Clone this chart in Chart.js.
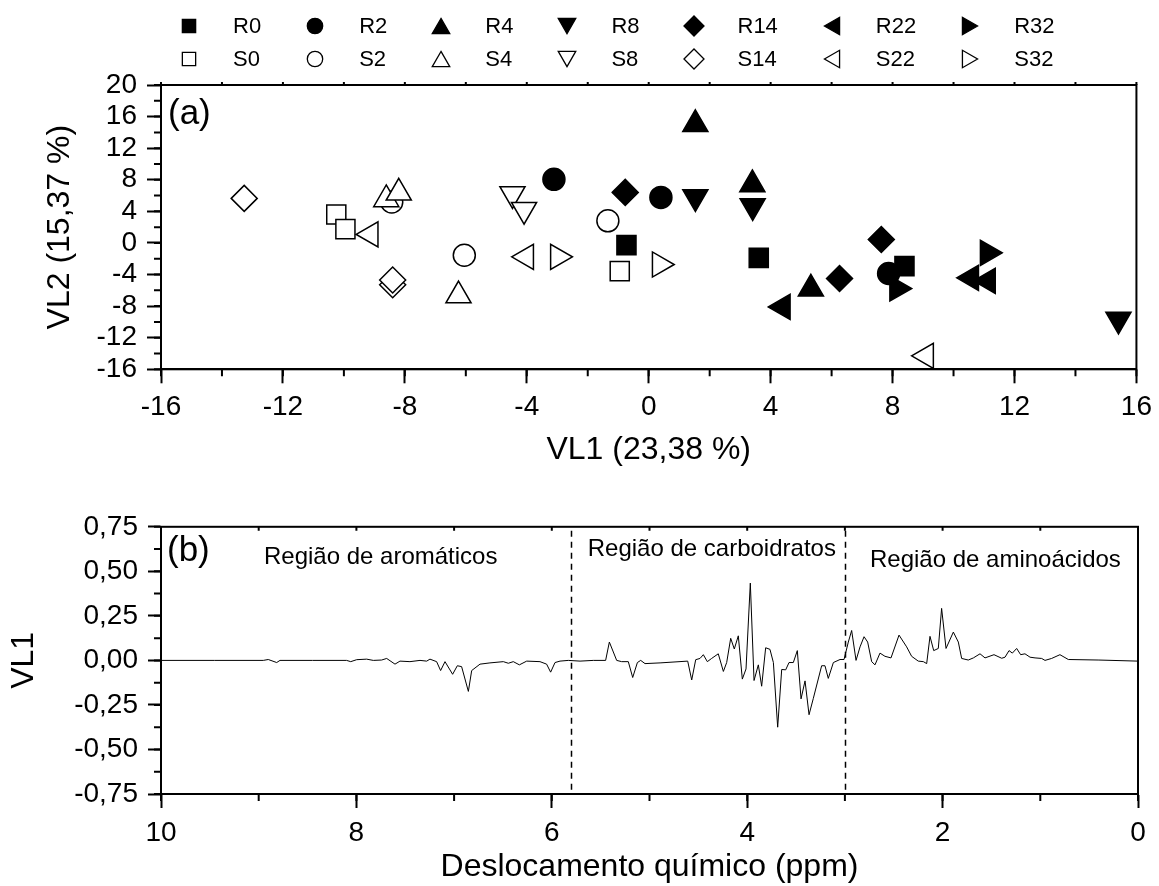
<!DOCTYPE html>
<html lang="pt">
<head>
<meta charset="utf-8">
<title>VL1 x VL2 e loadings</title>
<script src="https://cdn.jsdelivr.net/npm/chart.js@4/dist/chart.umd.min.js"></script>
<style>
  html, body { margin: 0; padding: 0; background: #fff; }
  #page { position: relative; width: 1159px; height: 886px; overflow: hidden; }
  #chartA { position: absolute; left: 0; top: 0; }
  #chartB { position: absolute; left: 0; top: 500px; }
  #legend {
    position: absolute; left: 176px; top: 9px;
    display: grid; grid-template-columns: repeat(7, auto); column-gap: 41px;
    font: 22px 'Liberation Sans', Arial, sans-serif; color: #000;
  }
  .item { display: flex; align-items: center; height: 33px; }
  .item canvas { width: 26px; height: 26px; }
  .item span { margin-left: 31px; }
</style>
</head>
<body>
<div id="page">
  <canvas id="chartA" width="1159" height="500"></canvas>
  <canvas id="chartB" width="1159" height="386"></canvas>
  <div id="legend"></div>
</div>
<script>
// scores (VL1, VL2)
const groups = ["0", "2", "4", "8", "14", "22", "32"];

const R0 = [[-0.73, -0.28], [3.61, -1.89], [8.39, -2.94]];
const R2 = [[-3.11, 8.05], [0.40, 5.77], [7.87, -3.87]];
const R4 = [[1.53, 15.02], [3.40, 7.41], [5.32, -5.81]];
const R8 = [[1.53, 5.83], [3.41, 4.69], [15.41, -9.69]];
const R14 = [[-0.77, 6.40], [6.26, -4.50], [7.63, 0.44]];
const R22 = [[4.40, -8.10], [10.58, -4.42], [11.13, -4.80]];
const R32 = [[8.15, -5.77], [11.12, -1.25]];

const S0 = [[-10.25, 3.61], [-9.95, 1.75], [-0.95, -3.57]];
const S2 = [[-8.43, 5.20], [-6.05, -1.55], [-1.34, 2.80]];
const S4 = [[-8.61, 5.51], [-8.20, 6.35], [-6.24, -6.67]];
const S8 = [[-4.47, 6.20], [-4.09, 4.21]];
const S14 = [[-13.27, 5.64], [-8.40, -5.30], [-8.40, -4.70]];
const S22 = [[-9.12, 1.08], [-4.02, -1.76], [9.10, -14.30]];
const S32 = [[-2.98, -1.76], [0.36, -2.73]];

// loadings of VL1 along the spectrum, panel (b)
const shiftPpm = [10.00, 9.45, 8.953, 8.902, 8.816, 8.782, 8.45, 8.10, 8.058, 7.997,
  7.895, 7.827, 7.742, 7.690, 7.605, 7.554, 7.452, 7.349, 7.281, 7.247,
  7.179, 7.138, 7.093, 7.015, 6.967, 6.923, 6.854, 6.820, 6.735, 6.633,
  6.496, 6.445, 6.394, 6.332, 6.257, 6.121, 6.053, 6.012, 5.967, 5.916,
  5.831, 5.711, 5.575, 5.449, 5.411, 5.336, 5.285, 5.217, 5.172, 5.124,
  5.090, 5.046, 4.892, 4.609, 4.568, 4.527, 4.483, 4.449, 4.408, 4.364,
  4.296, 4.244, 4.210, 4.169, 4.132, 4.091, 4.050, 4.012, 3.968, 3.930,
  3.886, 3.852, 3.811, 3.767, 3.732, 3.688, 3.647, 3.606, 3.572, 3.528,
  3.487, 3.449, 3.408, 3.367, 3.323, 3.238, 3.204, 3.170, 3.118, 3.050,
  3.009, 2.965, 2.931, 2.886, 2.845, 2.804, 2.767, 2.726, 2.692, 2.641,
  2.590, 2.528, 2.446, 2.368, 2.317, 2.249, 2.197, 2.163, 2.129, 2.091,
  2.044, 2.010, 1.965, 1.890, 1.839, 1.805, 1.737, 1.685, 1.617, 1.566,
  1.474, 1.395, 1.361, 1.320, 1.286, 1.242, 1.201, 1.157, 1.105, 1.054,
  0.986, 0.952, 0.884, 0.799, 0.713, 0.40, 0.00];
const vl1Loading = [0, 0, 0, 0.005, -0.012, 0, 0, 0, -0.007, 0.004,
  0.007, 0, 0.002, 0.011, -0.021, -0.004, -0.007, 0, -0.004, 0.007,
  -0.007, -0.057, -0.007, -0.078, -0.030, -0.035, -0.174, -0.057, -0.021, -0.014,
  -0.007, -0.016, -0.007, -0.025, -0.004, -0.007, -0.021, -0.066, -0.012, -0.004,
  0, -0.004, 0, 0, 0.103, 0, -0.007, -0.007, -0.096, -0.012,
  0, -0.018, -0.014, -0.004, -0.110, 0.004, 0.011, 0.032, -0.007, 0.011,
  0.037, -0.062, -0.012, 0.124, 0.064, 0.138, -0.105, -0.048, 0.434, -0.113,
  -0.025, -0.145, 0.071, 0.062, -0.012, -0.375, -0.051, -0.053, -0.012, -0.012,
  0.055, -0.216, -0.115, -0.305, -0.213, -0.030, -0.030, -0.101, -0.012, 0.005,
  0.005, 0.103, 0.168, 0, 0.076, 0.133, 0.103, -0.007, -0.025, 0.041,
  0.023, 0.014, 0.142, 0.076, 0.023, -0.004, -0.007, -0.018, 0.135, 0.055,
  0.067, 0.292, 0.067, 0.159, 0.103, 0.011, 0.002, 0.014, 0.037, 0.014,
  0.032, 0.012, 0.018, 0.055, 0.041, 0.067, 0.032, 0.037, 0.018, 0.014,
  0.011, 0, 0.011, 0.032, 0.005, 0.002, -0.004];

const regionBounds = [5.8, 3.0];
const regionNames = ["Região de aromáticos", "Região de carboidratos", "Região de aminoácidos"];

const seriesPoints = { R0, R2, R4, R8, R14, R22, R32, S0, S2, S4, S8, S14, S22, S32 };

const markers = {
  "0":  { style: "rect",     rotation: 0,   radius: 13.5, legend: 9.4 },
  "2":  { style: "circle",   rotation: 0,   radius: 11,   legend: 7.7 },
  "4":  { style: "triangle", rotation: 0,   radius: 14.5, legend: 10.1 },
  "8":  { style: "triangle", rotation: 180, radius: 14.5, legend: 10.1 },
  "14": { style: "rectRot",  rotation: 0,   radius: 13,   legend: 10 },
  "22": { style: "triangle", rotation: 270, radius: 14.5, legend: 10.1 },
  "32": { style: "triangle", rotation: 90,  radius: 14.5, legend: 10.1 },
};

const FONT = "'Liberation Sans', Arial, sans-serif";
Chart.defaults.font.family = FONT;
Chart.defaults.color = "#000";

// frame, minor ticks, panel letter, region marks
const panelDecor = {
  id: "panelDecor",
  beforeDatasetsDraw(chart, args, opts) {
    if (!opts.bounds) return;
    const { ctx, chartArea: a, scales: { x } } = chart;
    ctx.save();
    ctx.setLineDash([6, 5]);
    ctx.lineWidth = 1.5;
    ctx.strokeStyle = "#000";
    opts.bounds.forEach(b => {
      const px = Math.round(x.getPixelForValue(b)) + 0.5;
      ctx.beginPath();
      ctx.moveTo(px, a.top + 4);
      ctx.lineTo(px, a.bottom);
      ctx.stroke();
    });
    ctx.restore();
  },
  afterDraw(chart, args, opts) {
    const { ctx, chartArea: a, scales: { x, y } } = chart;
    ctx.save();
    ctx.strokeStyle = "#000";
    ctx.lineWidth = 2;
    ctx.strokeRect(a.left, a.top, a.right - a.left, a.bottom - a.top);
    ctx.beginPath();
    for (let v = x.min; v <= x.max + 1e-9; v += opts.xMinor) {
      const px = x.getPixelForValue(v);
      ctx.moveTo(px, a.bottom);
      ctx.lineTo(px, a.bottom + 7);
      ctx.moveTo(px, a.top);
      ctx.lineTo(px, a.top + opts.topTick);
    }
    for (let v = y.min; v <= y.max + 1e-9; v += opts.yMinor) {
      const py = y.getPixelForValue(v);
      ctx.moveTo(a.left - 7, py);
      ctx.lineTo(a.left, py);
    }
    ctx.stroke();

    ctx.fillStyle = "#000";
    ctx.textBaseline = "alphabetic";
    ctx.textAlign = "left";
    ctx.font = "35px " + FONT;
    ctx.fillText(opts.letter, a.left + opts.letterDx, a.top + opts.letterDy);

    if (opts.notes) {
      ctx.font = "24px " + FONT;
      opts.notes.forEach(n => {
        ctx.fillText(n.text, x.getPixelForValue(n.x), y.getPixelForValue(n.y));
      });
    }
    ctx.restore();
  }
};
Chart.register(panelDecor);

// panel (a)
const scatterSets = [];
["R", "S"].forEach(p => groups.forEach(g => {
  const name = p + g;
  const m = markers[g];
  scatterSets.push({
    label: name,
    data: seriesPoints[name].map(([vx, vy]) => ({ x: vx, y: vy })),
    pointStyle: m.style,
    pointRotation: m.rotation,
    pointRadius: m.radius,
    pointBackgroundColor: p === "R" ? "#000" : "#fff",
    pointBorderColor: "#000",
    pointBorderWidth: 1.5,
    order: -scatterSets.length,
  });
}));

const tickFont = { size: 28 };
const titleFont = { size: 32 };

new Chart(document.getElementById("chartA"), {
  type: "scatter",
  data: { datasets: scatterSets },
  options: {
    responsive: false,
    animation: false,
    events: [],
    layout: { padding: { left: 0, right: 20, top: 85, bottom: 0 } },
    plugins: {
      legend: { display: false },
      tooltip: { enabled: false },
      panelDecor: { xMinor: 2, yMinor: 2, topTick: -3, letter: "(a)", letterDx: 7, letterDy: 39 },
    },
    scales: {
      x: {
        type: "linear", min: -16, max: 16,
        afterFit: s => { s.height = 130.7; },
        ticks: { stepSize: 4, autoSkip: false, maxRotation: 0, padding: 7, font: tickFont, color: "#000" },
        grid: { drawOnChartArea: false, tickLength: 14, tickWidth: 2, tickColor: "#000" },
        border: { display: true, color: "#000", width: 2 },
        title: { display: true, text: "VL1 (23,38 %)", font: titleFont, color: "#000", padding: { top: 0, bottom: 31 } },
      },
      y: {
        type: "linear", min: -16, max: 20,
        afterFit: s => { s.width = 161; },
        ticks: { stepSize: 4, autoSkip: false, padding: 10, font: tickFont, color: "#000" },
        grid: { drawOnChartArea: false, tickLength: 14, tickWidth: 2, tickColor: "#000" },
        border: { display: true, color: "#000", width: 2 },
        title: { display: true, text: "VL2 (15,37 %)", font: titleFont, color: "#000", padding: { top: 41, bottom: 0 } },
      },
    },
  },
});

// panel (b)
new Chart(document.getElementById("chartB"), {
  type: "line",
  data: {
    datasets: [{
      label: "VL1",
      data: shiftPpm.map((v, i) => ({ x: v, y: vl1Loading[i] })),
      borderColor: "#000",
      borderWidth: 1,
      pointRadius: 0,
      tension: 0,
      fill: false,
    }],
  },
  options: {
    responsive: false,
    animation: false,
    events: [],
    layout: { padding: { left: 0, right: 21, top: 11.7, bottom: 0 } },
    plugins: {
      legend: { display: false },
      tooltip: { enabled: false },
      panelDecor: {
        xMinor: 1, yMinor: 0.125, topTick: 4, letter: "(b)", letterDx: 6, letterDy: 34,
        bounds: regionBounds,
        notes: [
          { text: regionNames[0], x: 8.946, y: 0.543 },
          { text: regionNames[1], x: 5.632, y: 0.587 },
          { text: regionNames[2], x: 2.743, y: 0.524 },
        ],
      },
    },
    scales: {
      x: {
        type: "linear", min: 0, max: 10, reverse: true,
        afterFit: s => { s.height = 92; },
        ticks: { stepSize: 2, autoSkip: false, maxRotation: 0, padding: 8, font: tickFont, color: "#000" },
        grid: { drawOnChartArea: false, tickLength: 14, tickWidth: 2, tickColor: "#000" },
        border: { display: true, color: "#000", width: 2 },
        title: { display: true, text: "Deslocamento químico (ppm)", font: titleFont, color: "#000", padding: { top: 0, bottom: 0 } },
      },
      y: {
        type: "linear", min: -0.75, max: 0.75,
        afterFit: s => { s.width = 161; },
        ticks: {
          stepSize: 0.25, autoSkip: false, padding: 10, font: tickFont, color: "#000",
          callback: v => (Math.abs(v) < 1e-9 ? 0 : v).toFixed(2).replace(".", ","),
        },
        grid: { drawOnChartArea: false, tickLength: 13, tickWidth: 2, tickColor: "#000" },
        border: { display: true, color: "#000", width: 2 },
        title: { display: true, text: "VL1", font: titleFont, color: "#000", padding: { top: 5, bottom: 0 } },
      },
    },
  },
});

// legend: two rows, R filled and S open
const legendEl = document.getElementById("legend");
function drawMarker(cv, m, filled) {
  const ctx = cv.getContext("2d");
  ctx.fillStyle = filled ? "#000" : "#fff";
  ctx.strokeStyle = "#000";
  ctx.lineWidth = 1.3;
  let cx = cv.width / 2, cy = cv.height / 2;
  if (m.style === "triangle") {
    const d = m.legend / 4;
    if (m.rotation === 0) cy += d;
    else if (m.rotation === 180) cy -= d;
    else if (m.rotation === 90) cx -= d;
    else cx += d;
  }
  Chart.helpers.drawPoint(ctx, { pointStyle: m.style, rotation: m.rotation, radius: m.legend, borderWidth: 1.3 }, cx, cy);
}
["R", "S"].forEach(p => groups.forEach(g => {
  const item = document.createElement("div");
  item.className = "item";
  const cv = document.createElement("canvas");
  cv.width = 26;
  cv.height = 26;
  drawMarker(cv, markers[g], p === "R");
  const label = document.createElement("span");
  label.textContent = p + g;
  item.appendChild(cv);
  item.appendChild(label);
  legendEl.appendChild(item);
}));
</script>
</body>
</html>
